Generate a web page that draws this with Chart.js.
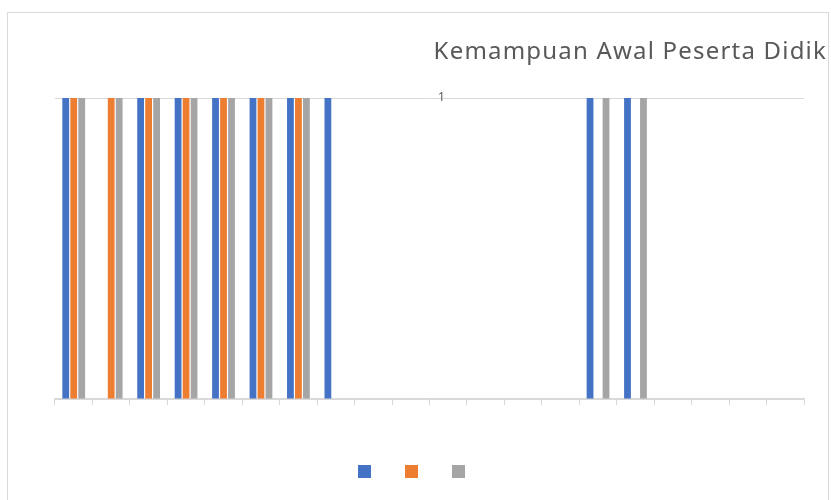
<!DOCTYPE html>
<html>
<head>
<meta charset="utf-8">
<script src="https://cdn.jsdelivr.net/npm/chart.js@4.4.1/dist/chart.umd.min.js"></script>
<style>
  html, body { margin: 0; padding: 0; background: #fff; overflow: hidden; }
  .frame {
    position: absolute; left: 7px; top: 12px;
    width: 820px; height: 510px;
    border: 1px solid #d9d9d9; border-bottom: none;
    overflow: hidden;
  }
</style>
</head>
<body>
<div class="frame"><canvas id="kemampuanChart" width="820" height="475"></canvas></div>
<script>
// Chart data
const chartTitle = 'Kemampuan Awal Peserta Didik';
const categories = ['1', '2', '3', '4', '5', '6', '7', '8', '9', '10',
  '11', '12', '13', '14', '15', '16', '17', '18', '19', '20'];
const series1 = [1, 0, 1, 1, 1, 1, 1, 1, 0, 0, 0, 0, 0, 0, 1, 1, 0, 0, 0, 0];
const series2 = [1, 1, 1, 1, 1, 1, 1, 0, 0, 0, 0, 0, 0, 0, 0, 0, 0, 0, 0, 0];
const series3 = [1, 1, 1, 1, 1, 1, 1, 0, 0, 0, 0, 0, 0, 0, 1, 1, 0, 0, 0, 0];
const yTicks = [0, 1];

// Title drawn at the top right, like the original sheet
const titlePlugin = {
  id: 'sheetTitle',
  afterDraw(chart) {
    const ctx = chart.ctx;
    ctx.save();
    ctx.font = '24px "Noto Sans"';
    ctx.letterSpacing = '1.2px';
    ctx.fillStyle = '#595959';
    ctx.textAlign = 'right';
    ctx.textBaseline = 'middle';
    ctx.fillText(chartTitle, chart.width - 1, 39);
    ctx.restore();
  }
};

// The lone "1" axis label that sits in the middle of the top gridline
const oddLabelPlugin = {
  id: 'oddLabel',
  afterDraw(chart) {
    const y = chart.scales.y;
    const area = chart.chartArea;
    const ctx = chart.ctx;
    const top = y.ticks.find(t => t.value === yTicks[yTicks.length - 1]);
    if (!top) return;
    ctx.save();
    ctx.font = '12px "Noto Sans"';
    ctx.fillStyle = '#595959';
    ctx.textAlign = 'center';
    ctx.textBaseline = 'middle';
    ctx.fillText(String(top.value), area.left + (area.right - area.left) * 0.516, y.getPixelForValue(top.value));
    ctx.restore();
  }
};

const ctx = document.getElementById('kemampuanChart').getContext('2d');
const kemampuanChart = new Chart(ctx, {
  type: 'bar',
  data: {
    labels: categories,
    datasets: [
      { label: '', data: series1, backgroundColor: '#4472C4' },
      { label: '', data: series2, backgroundColor: '#ED7D31' },
      { label: '', data: series3, backgroundColor: '#A5A5A5' }
    ]
  },
  options: {
    responsive: false,
    animation: false,
    categoryPercentage: 0.64,
    barPercentage: 0.85,
    layout: { padding: { left: 17, right: 24, top: 85, bottom: 0 } },
    plugins: {
      title: { display: false },
      tooltip: { enabled: false },
      legend: {
        position: 'bottom',
        labels: {
          boxWidth: 13,
          boxHeight: 13,
          padding: 28,
          font: { size: 12, family: 'Noto Sans' }
        }
      }
    },
    scales: {
      x: {
        grid: { drawOnChartArea: false, color: '#d9d9d9', tickLength: 6, offset: true },
        border: { color: '#d9d9d9', width: 1.5 },
        ticks: { display: false },
        afterFit(scale) { scale.height = 38; }
      },
      y: {
        min: yTicks[0],
        max: yTicks[yTicks.length - 1],
        ticks: { display: false, stepSize: 1 },
        grid: { color: '#d9d9d9', drawTicks: false },
        border: { display: false },
        afterFit(scale) { scale.width = 30; }
      }
    }
  },
  plugins: [titlePlugin, oddLabelPlugin]
});
</script>
</body>
</html>
